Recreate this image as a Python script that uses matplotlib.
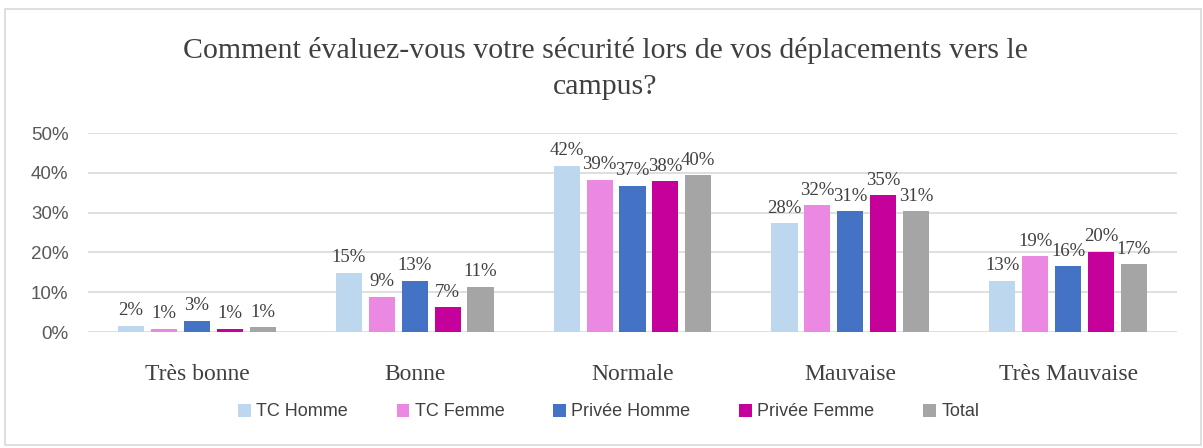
import numpy as np
import matplotlib
matplotlib.use("Agg")
import matplotlib.pyplot as plt
from matplotlib.patches import Rectangle

categories = ["Très bonne", "Bonne", "Normale", "Mauvaise", "Très Mauvaise"]
series = ["TC Homme", "TC Femme", "Privée Homme", "Privée Femme", "Total"]

# bar heights (%)
tc_homme = [1.6, 14.9, 41.8, 27.3, 12.9]
tc_femme = [0.8, 8.9, 38.3, 31.8, 19.0]
privee_homme = [2.8, 12.9, 36.8, 30.3, 16.6]
privee_femme = [0.8, 6.3, 37.9, 34.4, 20.2]
total = [1.2, 11.4, 39.4, 30.3, 17.0]

# data labels as printed on the chart
lab_tc_homme = ["2%", "15%", "42%", "28%", "13%"]
lab_tc_femme = ["1%", "9%", "39%", "32%", "19%"]
lab_privee_homme = ["3%", "13%", "37%", "31%", "16%"]
lab_privee_femme = ["1%", "7%", "38%", "35%", "20%"]
lab_total = ["1%", "11%", "40%", "31%", "17%"]

colors = ["#BDD7EE", "#EA88E2", "#4472C4", "#C5009B", "#A5A5A5"]

values = [tc_homme, tc_femme, privee_homme, privee_femme, total]
labels = [lab_tc_homme, lab_tc_femme, lab_privee_homme, lab_privee_femme, lab_total]

serif = "Liberation Serif"

fig = plt.figure(figsize=(12.03, 4.48), dpi=100)
fig.patches.append(Rectangle((0.004, 0.006), 0.994, 0.973, transform=fig.transFigure,
                             fill=False, edgecolor="#D9D9D9", lw=1.2))
ax = fig.add_axes([88 / 1203, 1 - 332 / 448, (1177 - 88) / 1203, (332 - 133) / 448])

x = np.arange(len(categories))
step = 0.151
width = 0.12
for i, (vals, labs) in enumerate(zip(values, labels)):
    pos = x + (i - 2) * step
    bars = ax.bar(pos, vals, width=width, color=colors[i], label=series[i], zorder=3)
    for b, t in zip(bars, labs):
        ax.text(b.get_x() + b.get_width() / 2, b.get_height() + 1.6, t,
                ha="center", va="bottom", fontsize=13.5, family=serif, color="#404040")

ax.set_xlim(-0.5, len(categories) - 0.5)
ax.set_ylim(0, 50)
ax.set_yticks(range(0, 51, 10))
ax.set_yticklabels([f"{v}%" for v in range(0, 51, 10)], fontsize=13.5, family="Liberation Sans", color="#595959")
ax.yaxis.grid(True, color="#D9D9D9", lw=1.2, zorder=0)
ax.tick_params(axis="y", length=0, pad=14)
ax.tick_params(axis="x", length=0, pad=23)
ax.set_xticks(x)
ax.set_xticklabels(categories, fontsize=17, family=serif, color="#404040")
for s in ax.spines.values():
    s.set_visible(False)

fig.text(0.503, 1 - 50 / 448, "Comment évaluez-vous votre sécurité lors de vos déplacements vers le",
         ha="center", va="center", fontsize=21.5, family=serif, color="#404040")
fig.text(0.503, 1 - 87 / 448, "campus?", ha="center", va="center", fontsize=21.5, family=serif, color="#404040")

fig.legend(loc="center", bbox_to_anchor=(0.506, 1 - 412 / 448), ncol=5, frameon=False,
           prop={"family": "Liberation Sans", "size": 13}, handlelength=0.7, handleheight=0.7,
           handletextpad=0.3, columnspacing=2.7, labelcolor="#404040")

fig.savefig("out.png", dpi=100)
